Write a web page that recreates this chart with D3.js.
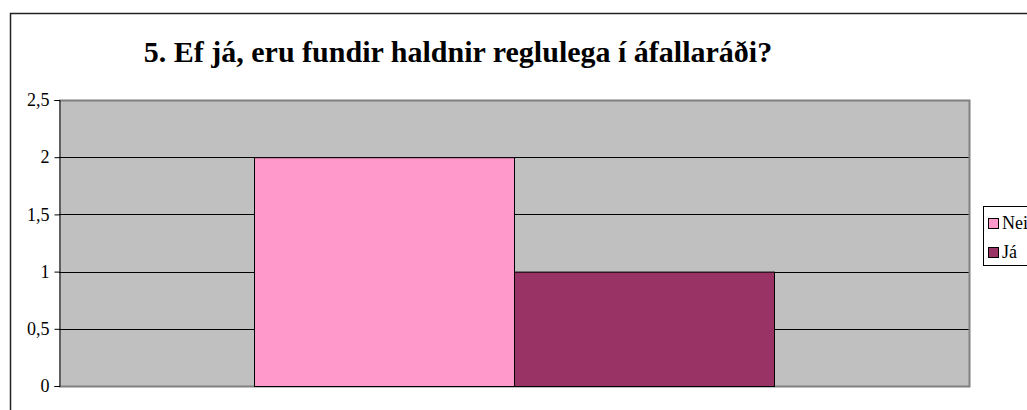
<!DOCTYPE html>
<html>
<head>
<meta charset="utf-8">
<script src="https://cdn.jsdelivr.net/npm/d3@7"></script>
<style>
  body { margin: 0; background: #fff; }
</style>
</head>
<body>
<svg width="1027" height="410"></svg>
<script>
// Data
const categories = ["1"];
const seriesNames = ["Nei", "Já"];
const seriesColors = ["#FF99CC", "#993366"];
const values = [[2, 1]];
const yTicks = [0, 0.5, 1, 1.5, 2, 2.5];
const title = "5. Ef já, eru fundir haldnir reglulega í áfallaráði?";

const svg = d3.select("svg"),
  width = +svg.attr("width"),
  height = +svg.attr("height");

const serif = "Liberation Serif";

// outer chart frame
svg.append("rect")
  .attr("x", 10.5).attr("y", 13.5)
  .attr("width", 1040).attr("height", 420)
  .attr("fill", "#fff")
  .attr("stroke", "#222").attr("stroke-width", 1.5);

const plot = { left: 59, top: 100, right: 969, bottom: 386 };

// one category, two bars, gap width 150%
const groupW = (plot.right - plot.left) * 2 / 3.5;
const x1 = d3.scaleBand()
  .domain(seriesNames)
  .range([0, groupW]);

const y = d3.scaleLinear()
  .domain([0, 2.5])
  .range([plot.bottom, plot.top]);

// plot background
svg.append("rect")
  .attr("x", plot.left).attr("y", plot.top)
  .attr("width", plot.right - plot.left).attr("height", plot.bottom - plot.top)
  .attr("fill", "#C0C0C0");

// gridlines
svg.append("g")
  .selectAll("line")
  .data(yTicks.filter(d => d > 0 && d < 2.5))
  .enter()
  .append("line")
  .attr("x1", plot.left).attr("x2", plot.right)
  .attr("y1", d => Math.round(y(d)) + 0.5)
  .attr("y2", d => Math.round(y(d)) + 0.5)
  .attr("stroke", "#000");

// plot border (gray)
svg.append("path")
  .attr("d", `M${plot.left},${plot.top + 0.5}H${plot.right + 0.5}V${plot.bottom + 0.5}H${plot.left}`)
  .attr("fill", "none")
  .attr("stroke", "#808080").attr("stroke-width", 2);

// bars
const groupX = (plot.left + plot.right) / 2 - groupW / 2;
svg.append("g")
  .selectAll("g")
  .data(categories)
  .enter()
  .append("g")
  .attr("transform", `translate(${groupX},0)`)
  .selectAll("rect")
  .data((d, i) => values[i].map((v, j) => ({ key: seriesNames[j], v: v, c: seriesColors[j] })))
  .enter()
  .append("rect")
  .attr("x", d => x1(d.key) + 0.5)
  .attr("y", d => y(d.v) + 0.5)
  .attr("width", x1.bandwidth())
  .attr("height", d => plot.bottom - y(d.v))
  .attr("fill", d => d.c)
  .attr("stroke", "#000").attr("stroke-width", 1);

// y axis
const yAxis = d3.axisLeft(y)
  .tickValues(yTicks)
  .tickSize(5)
  .tickPadding(5)
  .tickFormat(d => String(d).replace(".", ","));

const ax = svg.append("g")
  .attr("transform", `translate(${plot.left + 0.5},0)`)
  .call(yAxis)
  .attr("font-size", 18)
  .attr("font-family", serif);
ax.select(".domain").attr("stroke", "#000");
ax.selectAll(".tick line").attr("stroke", "#000");
ax.selectAll(".tick text").attr("fill", "#000");

// title
svg.append("text")
  .attr("x", 458).attr("y", 62)
  .attr("text-anchor", "middle")
  .attr("font-family", serif)
  .attr("font-size", 30)
  .attr("font-weight", "bold")
  .text(title);

// legend
const legend = svg.append("g");
legend.append("rect")
  .attr("x", 983.5).attr("y", 206.5)
  .attr("width", 80).attr("height", 59)
  .attr("fill", "#fff")
  .attr("stroke", "#000");

const items = legend.selectAll("g.item")
  .data(seriesNames)
  .enter()
  .append("g")
  .attr("class", "item")
  .attr("transform", (d, i) => `translate(988,${218 + i * 29})`);
items.append("rect")
  .attr("x", 0.5).attr("y", 0.5)
  .attr("width", 10).attr("height", 10)
  .attr("fill", (d, i) => seriesColors[i])
  .attr("stroke", "#000");
items.append("text")
  .attr("x", 14).attr("y", 11)
  .attr("font-family", serif)
  .attr("font-size", 18)
  .text(d => d);
</script>
</body>
</html>
